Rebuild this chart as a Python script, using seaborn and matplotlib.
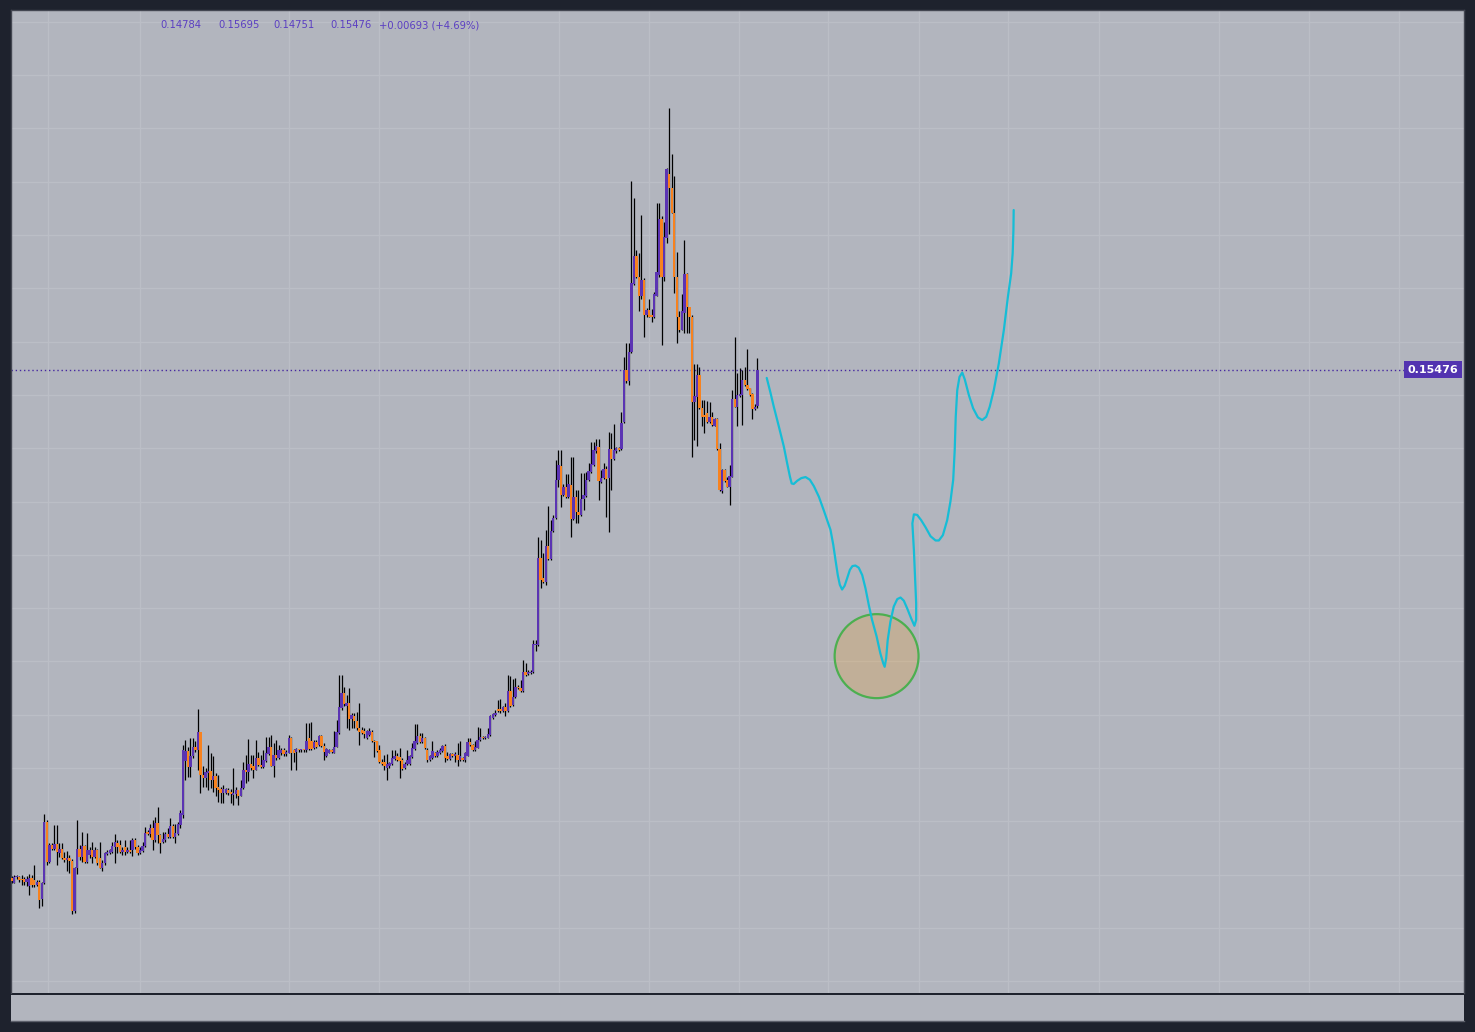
import numpy as np
import pandas as pd
import matplotlib
matplotlib.use("Agg")
import matplotlib.pyplot as plt
from matplotlib.patches import Ellipse
import matplotlib.transforms as mtransforms
import seaborn as sns

# ---------------- data (prices) ----------------
opens = [
0.0593,0.0585,0.0595,0.0595,0.0591,0.0591,0.0587,0.0579,0.0593,0.0590,
0.0581,0.0587,0.0554,0.0584,0.0699,0.0624,0.0656,0.0649,0.0657,0.0641,
0.0649,0.0632,0.0627,0.0631,0.0626,0.0531,0.0612,0.0649,0.0634,0.0654,
0.0624,0.0637,0.0646,0.0634,0.0646,0.0632,0.0613,0.0621,0.0639,0.0641,
0.0643,0.0652,0.0660,0.0656,0.0643,0.0652,0.0643,0.0647,0.0646,0.0665,
0.0652,0.0640,0.0645,0.0654,0.0681,0.0677,0.0687,0.0665,0.0697,0.0674,
0.0662,0.0665,0.0676,0.0671,0.0691,0.0670,0.0677,0.0693,0.0712,0.0814,
0.0832,0.0802,0.0822,0.0840,0.0834,0.0867,0.0787,0.0781,0.0790,0.0795,
0.0777,0.0785,0.0765,0.0760,0.0753,0.0753,0.0759,0.0756,0.0750,0.0752,
0.0758,0.0748,0.0762,0.0797,0.0792,0.0808,0.0803,0.0797,0.0819,0.0806,
0.0802,0.0814,0.0827,0.0839,0.0804,0.0825,0.0819,0.0828,0.0834,0.0827,
0.0829,0.0856,0.0834,0.0831,0.0835,0.0833,0.0835,0.0833,0.0856,0.0850,
0.0837,0.0848,0.0843,0.0860,0.0842,0.0822,0.0829,0.0834,0.0829,0.0840,
0.0865,0.0912,0.0940,0.0917,0.0922,0.0893,0.0897,0.0888,0.0875,0.0872,
0.0870,0.0856,0.0862,0.0868,0.0851,0.0850,0.0834,0.0812,0.0811,0.0801,
0.0803,0.0807,0.0817,0.0822,0.0820,0.0815,0.0800,0.0807,0.0807,0.0820,
0.0836,0.0847,0.0861,0.0848,0.0857,0.0834,0.0815,0.0818,0.0828,0.0822,
0.0828,0.0832,0.0842,0.0822,0.0817,0.0826,0.0822,0.0825,0.0815,0.0818,
0.0815,0.0823,0.0848,0.0843,0.0834,0.0838,0.0853,0.0859,0.0856,0.0857,
0.0862,0.0894,0.0900,0.0910,0.0910,0.0908,0.0914,0.0908,0.0944,0.0919,
0.0933,0.0953,0.0950,0.0944,0.0981,0.0977,0.0979,0.0981,0.1031,0.1031,
0.1194,0.1156,0.1150,0.1217,0.1192,0.1244,0.1269,0.1341,0.1367,0.1312,
0.1327,0.1308,0.1331,0.1267,0.1308,0.1281,0.1275,0.1304,0.1311,0.1341,
0.1356,0.1369,0.1394,0.1403,0.1337,0.1344,0.1361,0.1344,0.1398,0.1379,
0.1394,0.1400,0.1398,0.1450,0.1546,0.1527,0.1581,0.1708,0.1760,0.1722,
0.1685,0.1716,0.1650,0.1660,0.1650,0.1646,0.1686,0.1725,0.1830,0.1721,
0.1794,0.1915,0.1888,0.1842,0.1722,0.1647,0.1622,0.1653,0.1727,0.1665,
0.1646,0.1486,0.1497,0.1538,0.1475,0.1463,0.1466,0.1450,0.1458,0.1442,
0.1454,0.1398,0.1319,0.1359,0.1341,0.1328,0.1347,0.1492,0.1478,0.1498,
0.1500,0.1529,0.1519,0.1513,0.1502,0.1473,0.14784]

highs = [
0.0598,0.0599,0.0599,0.0597,0.0599,0.0596,0.0597,0.0602,0.0599,0.0618,
0.0590,0.0590,0.0587,0.0714,0.0702,0.0660,0.0660,0.0693,0.0693,0.0659,
0.0659,0.0643,0.0645,0.0637,0.0629,0.0615,0.0702,0.0656,0.0681,0.0656,
0.0679,0.0652,0.0662,0.0652,0.0649,0.0662,0.0627,0.0643,0.0646,0.0649,
0.0662,0.0677,0.0665,0.0665,0.0652,0.0665,0.0652,0.0665,0.0668,0.0668,
0.0656,0.0652,0.0662,0.0690,0.0684,0.0696,0.0702,0.0709,0.0727,0.0677,
0.0681,0.0681,0.0687,0.0706,0.0696,0.0696,0.0699,0.0721,0.0843,0.0853,
0.0840,0.0856,0.0856,0.0850,0.0910,0.0868,0.0803,0.0800,0.0843,0.0828,
0.0822,0.0790,0.0787,0.0765,0.0768,0.0762,0.0762,0.0760,0.0800,0.0765,
0.0759,0.0778,0.0812,0.0825,0.0854,0.0825,0.0825,0.0853,0.0831,0.0825,
0.0834,0.0859,0.0859,0.0862,0.0847,0.0853,0.0843,0.0837,0.0837,0.0834,
0.0862,0.0859,0.0835,0.0837,0.0836,0.0836,0.0836,0.0885,0.0884,0.0887,
0.0853,0.0853,0.0862,0.0862,0.0847,0.0837,0.0835,0.0835,0.0870,0.0890,
0.0975,0.0975,0.0953,0.0938,0.0950,0.0903,0.0903,0.0906,0.0922,0.0878,
0.0875,0.0872,0.0875,0.0872,0.0853,0.0851,0.0843,0.0817,0.0825,0.0826,
0.0812,0.0834,0.0834,0.0828,0.0837,0.0818,0.0812,0.0834,0.0825,0.0847,
0.0882,0.0882,0.0865,0.0865,0.0859,0.0838,0.0825,0.0850,0.0830,0.0834,
0.0837,0.0843,0.0845,0.0830,0.0828,0.0828,0.0831,0.0847,0.0850,0.0820,
0.0831,0.0856,0.0856,0.0845,0.0850,0.0878,0.0875,0.0861,0.0861,0.0875,
0.0900,0.0904,0.0909,0.0928,0.0929,0.0917,0.0923,0.0975,0.0972,0.0967,
0.0969,0.0956,0.0966,0.1003,0.0997,0.0984,0.0984,0.1040,0.1040,0.1234,
0.1228,0.1203,0.1247,0.1291,0.1266,0.1275,0.1378,0.1397,0.1397,0.1333,
0.1352,0.1352,0.1384,0.1384,0.1322,0.1322,0.1354,0.1354,0.1356,0.1372,
0.1412,0.1412,0.1417,0.1417,0.1359,0.1373,0.1366,0.1431,0.1428,0.1446,
0.1403,0.1403,0.1469,0.1572,0.1598,0.1598,0.1902,0.1869,0.1772,0.1767,
0.1838,0.1719,0.1663,0.1680,0.1661,0.1694,0.1861,0.1860,0.1835,0.1825,
0.1925,0.2038,0.1953,0.1911,0.1769,0.1657,0.1690,0.1790,0.1729,0.1666,
0.1650,0.1559,0.1559,0.1553,0.1491,0.1491,0.1489,0.1486,0.1469,0.1456,
0.1456,0.1409,0.1362,0.1362,0.1347,0.1369,0.1510,0.1609,0.1542,0.1550,
0.1547,0.1553,0.1586,0.1514,0.1503,0.1483,0.15695]

lows = [
0.0584,0.0584,0.0592,0.0587,0.0581,0.0581,0.0579,0.0562,0.0576,0.0576,
0.0579,0.0537,0.0541,0.0582,0.0618,0.0622,0.0646,0.0646,0.0618,0.0634,
0.0629,0.0624,0.0606,0.0604,0.0526,0.0529,0.0602,0.0627,0.0624,0.0621,
0.0621,0.0631,0.0621,0.0632,0.0618,0.0612,0.0606,0.0618,0.0637,0.0639,
0.0641,0.0622,0.0640,0.0640,0.0637,0.0637,0.0641,0.0640,0.0635,0.0649,
0.0637,0.0638,0.0643,0.0652,0.0674,0.0671,0.0646,0.0662,0.0660,0.0641,
0.0660,0.0662,0.0668,0.0668,0.0668,0.0660,0.0674,0.0687,0.0707,0.0778,
0.0783,0.0783,0.0819,0.0831,0.0797,0.0753,0.0764,0.0765,0.0759,0.0762,
0.0756,0.0747,0.0737,0.0735,0.0734,0.0752,0.0750,0.0734,0.0731,0.0744,
0.0731,0.0747,0.0760,0.0772,0.0775,0.0797,0.0781,0.0796,0.0803,0.0800,
0.0800,0.0812,0.0825,0.0803,0.0783,0.0815,0.0817,0.0825,0.0823,0.0823,
0.0828,0.0797,0.0812,0.0797,0.0831,0.0831,0.0831,0.0831,0.0834,0.0834,
0.0835,0.0837,0.0842,0.0840,0.0815,0.0821,0.0828,0.0829,0.0828,0.0839,
0.0863,0.0909,0.0917,0.0875,0.0872,0.0875,0.0875,0.0872,0.0843,0.0863,
0.0856,0.0855,0.0861,0.0848,0.0820,0.0830,0.0809,0.0806,0.0797,0.0778,
0.0800,0.0806,0.0815,0.0813,0.0782,0.0797,0.0798,0.0806,0.0806,0.0818,
0.0834,0.0845,0.0847,0.0847,0.0836,0.0812,0.0813,0.0817,0.0820,0.0820,
0.0826,0.0831,0.0812,0.0815,0.0815,0.0820,0.0812,0.0803,0.0813,0.0813,
0.0812,0.0822,0.0842,0.0832,0.0832,0.0837,0.0851,0.0855,0.0855,0.0856,
0.0861,0.0892,0.0898,0.0906,0.0903,0.0906,0.0897,0.0906,0.0915,0.0917,
0.0931,0.0948,0.0942,0.0942,0.0973,0.0975,0.0977,0.0979,0.1019,0.1029,
0.1137,0.1148,0.1144,0.1191,0.1191,0.1242,0.1267,0.1328,0.1289,0.1311,
0.1306,0.1306,0.1234,0.1266,0.1259,0.1259,0.1273,0.1284,0.1309,0.1339,
0.1354,0.1367,0.1392,0.1303,0.1335,0.1342,0.1271,0.1242,0.1322,0.1378,
0.1392,0.1394,0.1397,0.1448,0.1522,0.1519,0.1579,0.1706,0.1719,0.1657,
0.1681,0.1608,0.1647,0.1646,0.1636,0.1644,0.1685,0.1722,0.1594,0.1713,
0.1786,0.1802,0.1841,0.1692,0.1597,0.1619,0.1621,0.1617,0.1617,0.1616,
0.1384,0.1416,0.1404,0.1473,0.1441,0.1428,0.1448,0.1448,0.1442,0.1441,
0.1397,0.1319,0.1317,0.1337,0.1327,0.1294,0.1346,0.1477,0.1441,0.1497,
0.1444,0.1517,0.1510,0.1498,0.1454,0.1472,0.14751]

closes = [
0.0588,0.0595,0.0597,0.0590,0.0590,0.0587,0.0591,0.0594,0.0581,0.0581,
0.0587,0.0552,0.0584,0.0699,0.0624,0.0656,0.0649,0.0657,0.0643,0.0649,
0.0632,0.0627,0.0631,0.0626,0.0531,0.0612,0.0649,0.0634,0.0654,0.0624,
0.0646,0.0647,0.0634,0.0646,0.0621,0.0613,0.0622,0.0640,0.0643,0.0646,
0.0654,0.0662,0.0652,0.0643,0.0647,0.0643,0.0647,0.0643,0.0665,0.0652,
0.0640,0.0646,0.0654,0.0679,0.0677,0.0687,0.0665,0.0697,0.0674,0.0660,
0.0666,0.0677,0.0671,0.0691,0.0670,0.0679,0.0695,0.0715,0.0834,0.0832,
0.0802,0.0822,0.0840,0.0834,0.0867,0.0787,0.0781,0.0792,0.0795,0.0777,
0.0785,0.0762,0.0759,0.0754,0.0760,0.0760,0.0753,0.0752,0.0753,0.0758,
0.0748,0.0762,0.0797,0.0792,0.0808,0.0800,0.0797,0.0819,0.0806,0.0802,
0.0815,0.0828,0.0839,0.0804,0.0825,0.0819,0.0833,0.0834,0.0827,0.0831,
0.0856,0.0829,0.0829,0.0835,0.0833,0.0835,0.0833,0.0850,0.0835,0.0835,
0.0848,0.0839,0.0860,0.0842,0.0831,0.0835,0.0834,0.0831,0.0840,0.0867,
0.0915,0.0940,0.0920,0.0922,0.0893,0.0900,0.0888,0.0875,0.0868,0.0865,
0.0863,0.0870,0.0870,0.0850,0.0848,0.0832,0.0811,0.0807,0.0803,0.0807,
0.0809,0.0818,0.0822,0.0815,0.0813,0.0798,0.0807,0.0815,0.0822,0.0837,
0.0850,0.0861,0.0848,0.0857,0.0837,0.0815,0.0822,0.0832,0.0822,0.0830,
0.0834,0.0842,0.0818,0.0817,0.0826,0.0822,0.0826,0.0815,0.0823,0.0815,
0.0828,0.0848,0.0843,0.0834,0.0840,0.0853,0.0859,0.0856,0.0859,0.0864,
0.0897,0.0902,0.0904,0.0908,0.0908,0.0914,0.0908,0.0944,0.0917,0.0934,
0.0953,0.0950,0.0944,0.0981,0.0975,0.0981,0.0981,0.1033,0.1033,0.1194,
0.1153,0.1150,0.1217,0.1192,0.1244,0.1269,0.1341,0.1369,0.1312,0.1327,
0.1308,0.1333,0.1267,0.1308,0.1281,0.1275,0.1304,0.1312,0.1341,0.1358,
0.1371,0.1396,0.1404,0.1339,0.1344,0.1361,0.1342,0.1398,0.1379,0.1396,
0.1400,0.1397,0.1448,0.1546,0.1527,0.1581,0.1711,0.1761,0.1722,0.1685,
0.1716,0.1650,0.1660,0.1647,0.1646,0.1690,0.1731,0.1830,0.1721,0.1797,
0.1924,0.1888,0.1842,0.1722,0.1647,0.1622,0.1657,0.1727,0.1665,0.1646,
0.1486,0.1498,0.1538,0.1475,0.1458,0.1458,0.1450,0.1458,0.1444,0.1454,
0.1398,0.1321,0.1359,0.1339,0.1328,0.1348,0.1492,0.1478,0.1500,0.1502,
0.1529,0.1519,0.1511,0.1500,0.1473,0.14783,0.15476]

# hand-drawn projection path (bar number, price)
proj_bar = [299.7,301.2,302.5,304.5,306.5,307.8,308.9,309.6,310.4,311.8,
            313.4,315.1,316.8,318.4,320.4,322.3,323.9,325.0,326.1,327.0,
            327.9,328.7,329.6,330.6,331.6,332.7,333.7,334.9,336.2,337.6,
            338.9,340.2,341.5,343.3,344.8,345.9,346.5,347.1,347.7,348.8,
            350.1,351.5,352.8,354.1,355.4,357.0,358.3,359.0,359.0,358.6,
            358.1,357.5,358.1,359.4,361.0,362.7,364.7,366.7,368.0,369.6,
            371.3,372.6,373.7,374.3,374.7,375.3,376.2,377.3,378.3,379.9,
            381.6,383.5,385.2,386.8,388.2,389.8,391.8,393.8,395.4,396.7,
            397.3,397.6,397.7]
proj_price = [0.1532,0.1504,0.1478,0.1441,0.1403,0.1372,0.1347,0.1334,0.1333,0.1339,
              0.1344,0.1346,0.1341,0.1329,0.1309,0.1284,0.1262,0.1247,0.1219,0.1190,
              0.1162,0.1144,0.1135,0.1142,0.1156,0.1172,0.1179,0.1180,0.1176,0.1162,
              0.1137,0.1106,0.1078,0.1047,0.1015,0.0997,0.0990,0.1006,0.1040,0.1075,
              0.1103,0.1117,0.1120,0.1114,0.1100,0.1081,0.1067,0.1078,0.1109,0.1153,
              0.1209,0.1259,0.1276,0.1275,0.1265,0.1252,0.1235,0.1227,0.1227,0.1237,
              0.1265,0.1300,0.1341,0.1397,0.1459,0.1509,0.1534,0.1542,0.1529,0.1500,
              0.1475,0.1458,0.1453,0.1459,0.1478,0.1509,0.1559,0.1622,0.1684,0.1728,
              0.1766,0.1810,0.1847]

# highlighted zone (circle): centre bar, centre price, diameter in bars / price
zone_bar, zone_price = 343.3, 0.1010
zone_w_bars, zone_h_price = 33.3, 0.01576

price_grid = [0.04, 0.05, 0.06, 0.07, 0.08, 0.09, 0.10, 0.11, 0.12, 0.13,
              0.14, 0.15, 0.16, 0.17, 0.18, 0.19, 0.20, 0.21, 0.22]
time_grid = [14.3, 50.8, 110.3, 146.0, 181.7, 217.1, 252.8, 288.5, 324.2,
             360.3, 395.6, 431.7, 479.0, 514.7, 550.8]

# ---------------- styling ----------------
UP = "#5b34b3"
DOWN = "#f7821f"
BG = "#b2b5be"
FRAME = "#1e222d"
GRID = "#bbbec6"
CYAN = "#16bdd6"
LABEL = "#5233b0"

sns.set_theme(style="white")
plt.rcParams['font.family'] = ['DejaVu Sans']

W, H = 1475, 1032
fig = plt.figure(figsize=(W / 100, H / 100), dpi=100, facecolor=FRAME)
ax = fig.add_axes([11 / W, (H - 993) / H, 1453 / W, 983 / H])
ax.set_facecolor(BG)

o = np.array(opens); h = np.array(highs); l = np.array(lows); c = np.array(closes)
idx = np.arange(len(c))
up = c >= o
min_h = 0.00013
body_h = np.abs(c - o)
body_lo = np.where(body_h < min_h, (o + c) / 2 - min_h / 2, np.minimum(o, c))
body_h = np.maximum(body_h, min_h)

ax.vlines(idx, l, h, color="black", lw=0.9, zorder=2)
ax.bar(idx, body_h, bottom=body_lo, width=0.95,
       color=np.where(up, UP, DOWN), linewidth=0, zorder=3)

# projection path
proj = pd.DataFrame({"bar": proj_bar, "price": proj_price})
sns.lineplot(data=proj, x="bar", y="price", sort=False, estimator=None,
             color=CYAN, lw=1.6, ax=ax, zorder=5,
             solid_joinstyle="round", solid_capstyle="round")

zone = Ellipse((zone_bar, zone_price), zone_w_bars, zone_h_price,
               facecolor=(1.0, 0.6, 0.0, 0.2), edgecolor="#4caf50", lw=1.6, zorder=4)
ax.add_patch(zone)

# last price dotted line + label
last = c[-1]
ax.axhline(last, xmin=0, xmax=(1405 - 11) / 1453, color="#4527a0",
           ls=(0, (1, 2)), lw=1.0, zorder=1.5)
trans = mtransforms.blended_transform_factory(ax.transAxes, ax.transData)
ax.text((1433 - 11) / 1453, last, f"{last:.5f}", transform=trans,
        ha="center", va="center", color="white", fontsize=8, fontweight="bold",
        bbox=dict(boxstyle="square,pad=0.3", fc=LABEL, ec="none"), zorder=6)

ax.set_xlim(-0.2, 576.4)
ax.set_ylim(0.03780, 0.22223)
ax.set_xticks(time_grid)
ax.set_yticks(price_grid)
ax.grid(True, color=GRID, lw=1.0)
ax.set_axisbelow(True)
ax.tick_params(length=0, labelbottom=False, labelleft=False)
ax.set_xlabel("")
ax.set_ylabel("")
for side in ["top", "left", "right"]:
    ax.spines[side].set_color("#434651")
    ax.spines[side].set_linewidth(1.0)
ax.spines["bottom"].set_visible(False)

# lower (empty) pane
ax2 = fig.add_axes([11 / W, (H - 1021) / H, 1453 / W, 26 / H])
ax2.set_facecolor(BG)
ax2.set_xticks([]); ax2.set_yticks([])
for side in ["top", "left", "right"]:
    ax2.spines[side].set_visible(False)
ax2.spines["bottom"].set_color("#5d606b")
ax2.spines["bottom"].set_linewidth(1.0)

# OHLC legend (top-left)
chg = c[-1] - c[-2]
pct = chg / c[-2] * 100
legend_txt = [f"{o[-1]:.5f}", f"{h[-1]:.5f}", f"{l[-1]:.5f}", f"{c[-1]:.5f}",
              f"{chg:+.5f} ({pct:+.2f}%)"]
legend_x = [160, 218, 273, 330, 379]
for t, xp in zip(legend_txt, legend_x):
    fig.text(xp / W, 1 - 25 / H, t, color="#5b3fc2", fontsize=7.2,
             ha="left", va="center")

fig.savefig("out.png", dpi=100, facecolor=FRAME)
